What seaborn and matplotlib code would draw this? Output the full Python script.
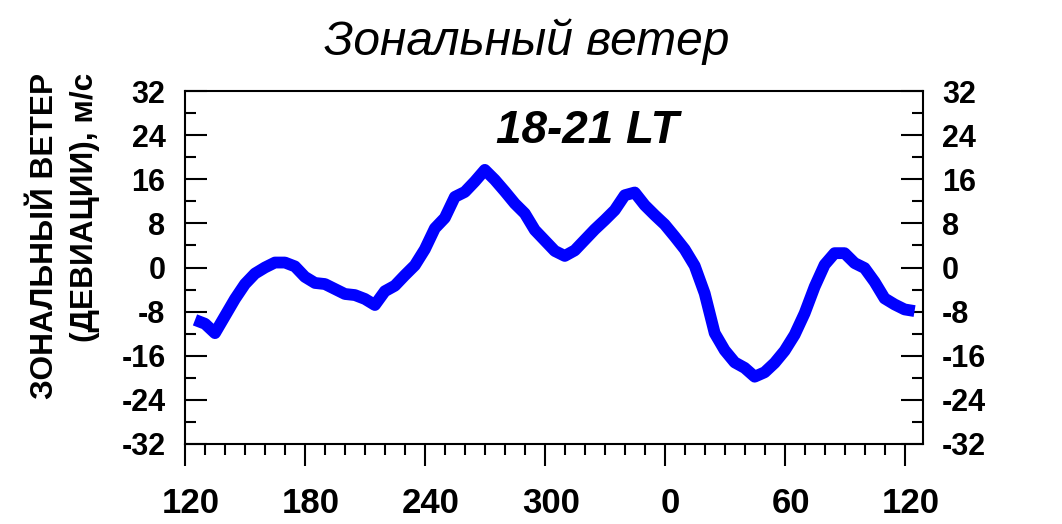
import numpy as np
import pandas as pd
import matplotlib
matplotlib.use("Agg")
import matplotlib.pyplot as plt
import matplotlib.transforms as mtransforms
from matplotlib.ticker import MultipleLocator, FixedLocator, FixedFormatter
import seaborn as sns

# longitude (unwrapped: 120 .. 480) and zonal wind deviation, m/s
lon = [125, 130, 135, 140, 145, 150, 155, 160, 165, 170, 175, 180, 185, 190,
       195, 200, 205, 210, 215, 220, 225, 230, 235, 240, 245, 250, 255, 260,
       265, 270, 275, 280, 285, 290, 295, 300, 305, 310, 315, 320, 325, 330,
       335, 340, 345, 350, 355, 360, 365, 370, 375, 380, 385, 390, 395, 400,
       405, 410, 415, 420, 425, 430, 435, 440, 445, 450, 455, 460, 465, 470,
       475, 480, 485]
wind = [-9.5, -10.2, -11.9, -8.8, -5.7, -3.0, -1.1, 0.0, 0.9, 0.9, 0.2, -1.7,
        -2.8, -3.0, -3.9, -4.8, -5.0, -5.7, -6.8, -4.3, -3.3, -1.4, 0.4, 3.3,
        7.1, 9.0, 12.8, 13.7, 15.6, 17.7, 15.9, 13.8, 11.6, 9.8, 6.8, 4.9,
        3.0, 2.1, 3.1, 5.0, 6.9, 8.6, 10.4, 13.1, 13.6, 11.3, 9.5, 7.8, 5.6,
        3.3, 0.3, -4.7, -11.9, -15.0, -17.2, -18.2, -19.8, -19.0, -17.3,
        -15.1, -12.2, -8.3, -3.5, 0.5, 2.6, 2.6, 0.8, -0.1, -2.6, -5.6, -6.7,
        -7.6, -7.9]

xtick_pos = [120, 180, 240, 300, 360, 420, 480]
xtick_labels = ["120", "180", "240", "300", "0", "60", "120"]
ytick_pos = [-32, -24, -16, -8, 0, 8, 16, 24, 32]

df = pd.DataFrame({"lon": lon, "wind": wind})

sns.set_theme(style="ticks")
plt.rcParams['font.family'] = ['Liberation Sans', 'DejaVu Sans']
plt.rcParams['axes.unicode_minus'] = False
plt.rcParams['text.color'] = 'black'

fig = plt.figure(figsize=(10.62, 5.24), dpi=100)
ax = fig.add_axes([0.1742, 0.1527, 0.8687 - 0.1742, 0.8263 - 0.1527])

sns.lineplot(data=df, x="lon", y="wind", ax=ax, color="#0000ff",
             linewidth=8.5, solid_capstyle="butt", solid_joinstyle="round")

ax.set_xlim(120, 489)
ax.set_ylim(-32, 32)
ax.xaxis.set_major_locator(FixedLocator(xtick_pos))
ax.xaxis.set_major_formatter(FixedFormatter(xtick_labels))
ax.xaxis.set_minor_locator(MultipleLocator(10))
ax.set_yticks(ytick_pos)
ax.yaxis.set_minor_locator(MultipleLocator(4))

for sp in ax.spines.values():
    sp.set_linewidth(1.5)
    sp.set_color("black")

ax.tick_params(axis="y", which="both", direction="in", left=True, right=True,
               labelleft=True, labelright=True, width=1.5, pad=14,
               labelsize=22, colors="black")
ax.tick_params(axis="y", which="major", length=16)
ax.tick_params(axis="y", which="minor", length=8)
ax.tick_params(axis="x", which="both", direction="out", top=False,
               width=1.5, pad=15, labelsize=25, colors="black")
ax.tick_params(axis="x", which="major", length=16)
ax.tick_params(axis="x", which="minor", length=8)
for lab in ax.get_xticklabels() + ax.get_yticklabels():
    lab.set_fontweight("bold")

# x labels sit a little right of their ticks in the original
shift = mtransforms.ScaledTranslation(6 / 100, 0, fig.dpi_scale_trans)
for lab in ax.get_xticklabels():
    lab.set_transform(lab.get_transform() + shift)

ax.set_xlabel("")
ax.set_ylabel("")

fig.text(527 / 1062, 1 - 55 / 524, "Зональный ветер", ha="center",
         va="baseline", fontsize=34.5, fontstyle="italic", color="black")
fig.text(587 / 1062, 1 - 143 / 524, "18-21 LT", ha="center", va="baseline",
         fontsize=33, fontstyle="italic", fontweight="bold", color="black")
fig.text(65 / 1062, 1 - 73 / 524, "ЗОНАЛЬНЫЙ ВЕТЕР\n(ДЕВИАЦИИ), м/с",
         rotation=90, ha="center", va="top", multialignment="right",
         fontsize=22.8, fontweight="bold", linespacing=1.4, color="black")

fig.savefig("out.png", dpi=100, facecolor="white")
